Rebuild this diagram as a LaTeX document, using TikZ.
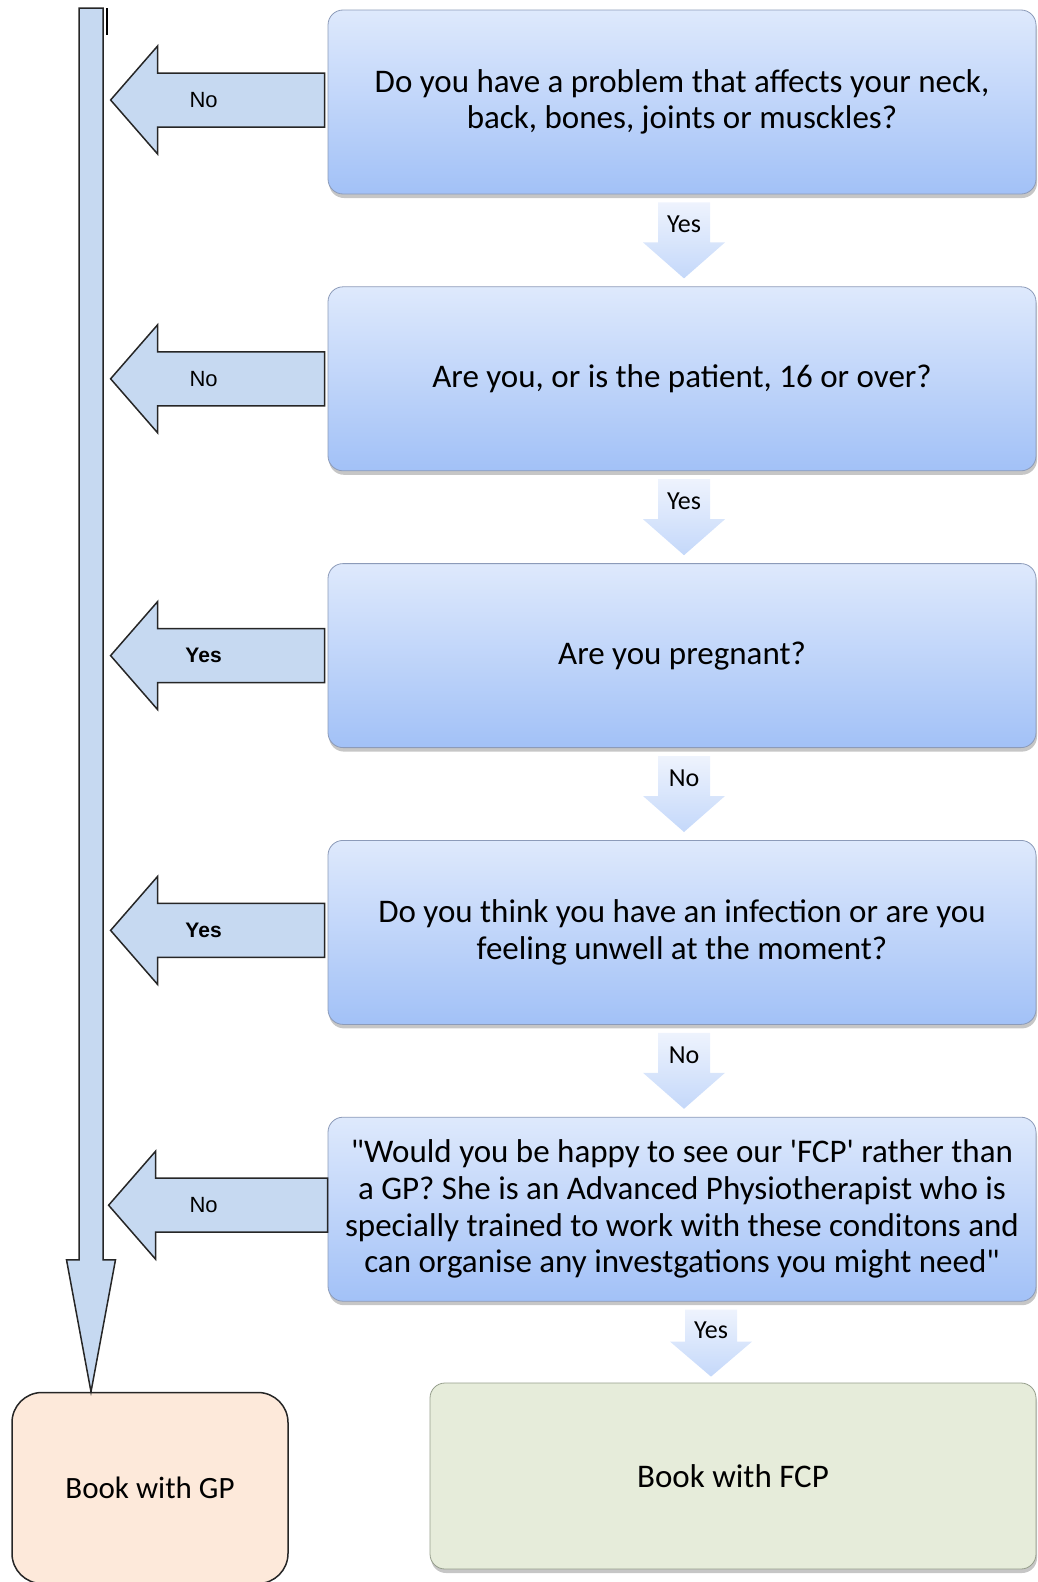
\documentclass[tikz,border=0pt]{standalone}
\usepackage{fontspec}
\setmainfont{Carlito}
\newfontfamily\arialfont{Liberation Sans}
\usetikzlibrary{positioning,shadows}

\definecolor{qtop}{RGB}{222,233,252}
\definecolor{qbot}{RGB}{162,193,247}
\definecolor{qedge}{RGB}{140,155,185}
\definecolor{arrtop}{RGB}{238,243,253}
\definecolor{arrbot}{RGB}{196,216,250}
\definecolor{barblue}{RGB}{198,217,241}
\definecolor{gpfill}{RGB}{253,233,218}
\definecolor{fcpfill}{RGB}{230,236,218}
\definecolor{fcpedge}{RGB}{150,158,140}

\tikzset{
  question/.style={rectangle, rounded corners=15pt, draw=qedge, line width=0.8pt,
    top color=qtop, bottom color=qbot, minimum width=708pt, minimum height=184pt,
    inner sep=0pt, align=center, font=\fontsize{33}{36.6}\selectfont,
    drop shadow={shadow xshift=1pt, shadow yshift=-4pt, opacity=0.45}},
  downarrow/.style={top color=arrtop, bottom color=arrbot},
  sidearrow/.style={fill=barblue, draw=black!85, line width=1.5pt},
  arrlabel/.style={font=\fontsize{26}{28}\selectfont, inner sep=0pt},
  sidelabel/.style={font=\arialfont\fontsize{22}{24}\selectfont, inner sep=0pt},
  gpbox/.style={rectangle, rounded corners=30pt, fill=gpfill, draw=black!85, line width=1.5pt,
    minimum width=276pt, minimum height=191pt, font=\fontsize{31}{36}\selectfont},
  fcpbox/.style={rectangle, rounded corners=15pt, fill=fcpfill, draw=fcpedge, line width=0.8pt,
    minimum width=606pt, minimum height=186pt, font=\fontsize{33}{36}\selectfont,
    drop shadow={shadow xshift=1pt, shadow yshift=-4pt, opacity=0.45}}
}

\begin{document}
\begin{tikzpicture}[x=1pt, y=-1pt]
\useasboundingbox (0,0) rectangle (1037,1582);
\clip (0,0) rectangle (1037,1582);

% questions
\node[question] (q1) at (682,102) {Do you have a problem that affects your neck,\\ back, bones, joints or musckles?};
\node[question, below=92pt of q1] (q2) {Are you, or is the patient, 16 or over?};
\node[question, below=92pt of q2] (q3) {Are you pregnant?};
\node[question, below=92pt of q3] (q4) {Do you think you have an infection or are you\\ feeling unwell at the moment?};
\node[question, below=92pt of q4] (q5) {\textquotedbl Would you be happy to see our \textquotesingle FCP\textquotesingle{} rather than\\ a GP? She is an Advanced Physiotherapist who is\\ specially trained to work with these conditons and\\ can organise any investgations you might need\textquotedbl};

% outcomes
\node[gpbox] (gp) at (150,1488) {Book with GP};
\node[fcpbox, anchor=north east] (fcp) at ([yshift=-81pt]q5.south east) {Book with FCP};

% down arrows
\path[downarrow] ([xshift=-24pt,yshift=-8pt]q1.south) -- ++(52pt,0pt) -- ++(0pt,-40pt) -- ++(15pt,0pt) -- ++(-41pt,-36pt) -- ++(-41pt,36pt) -- ++(15pt,0pt) -- cycle;
\node[arrlabel] (y1) at ([xshift=2pt,yshift=-30pt]q1.south) {Yes};
\path[downarrow] ([xshift=-24pt,yshift=-8pt]q2.south) -- ++(52pt,0pt) -- ++(0pt,-40pt) -- ++(15pt,0pt) -- ++(-41pt,-36pt) -- ++(-41pt,36pt) -- ++(15pt,0pt) -- cycle;
\node[arrlabel] (y2) at ([xshift=2pt,yshift=-30pt]q2.south) {Yes};
\path[downarrow] ([xshift=-24pt,yshift=-8pt]q3.south) -- ++(52pt,0pt) -- ++(0pt,-40pt) -- ++(15pt,0pt) -- ++(-41pt,-36pt) -- ++(-41pt,36pt) -- ++(15pt,0pt) -- cycle;
\node[arrlabel] (y3) at ([xshift=2pt,yshift=-30pt]q3.south) {No};
\path[downarrow] ([xshift=-24pt,yshift=-8pt]q4.south) -- ++(52pt,0pt) -- ++(0pt,-40pt) -- ++(15pt,0pt) -- ++(-41pt,-36pt) -- ++(-41pt,36pt) -- ++(15pt,0pt) -- cycle;
\node[arrlabel] (y4) at ([xshift=2pt,yshift=-30pt]q4.south) {No};
\path[downarrow] ([xshift=3pt,yshift=-8pt]q5.south) -- ++(52pt,0pt) -- ++(0pt,-32pt) -- ++(15pt,0pt) -- ++(-41pt,-35pt) -- ++(-41pt,35pt) -- ++(15pt,0pt) -- cycle;
\node[arrlabel] (y5) at ([xshift=29pt,yshift=-29pt]q5.south) {Yes};

% side arrows to the GP column
\draw[sidearrow] ([xshift=-3pt,yshift=29pt]q1.west) -- ++(-167pt,0pt) -- ++(0pt,27pt) -- ++(-47pt,-54pt) -- ++(47pt,-54pt) -- ++(0pt,27pt) -- ++(167pt,0pt) -- cycle;
\node[sidelabel] (n1) at ([xshift=-124pt,yshift=2pt]q1.west) {No};
\draw[sidearrow] ([xshift=-3pt,yshift=27pt]q2.west) -- ++(-167pt,0pt) -- ++(0pt,27pt) -- ++(-47pt,-54pt) -- ++(47pt,-54pt) -- ++(0pt,27pt) -- ++(167pt,0pt) -- cycle;
\node[sidelabel] (n2) at ([xshift=-124pt]q2.west) {No};
\draw[sidearrow] ([xshift=-3pt,yshift=27pt]q3.west) -- ++(-167pt,0pt) -- ++(0pt,27pt) -- ++(-47pt,-54pt) -- ++(47pt,-54pt) -- ++(0pt,27pt) -- ++(167pt,0pt) -- cycle;
\node[sidelabel, font=\arialfont\bfseries\fontsize{21}{23}\selectfont] (n3) at ([xshift=-124pt]q3.west) {Yes};
\draw[sidearrow] ([xshift=-3pt,yshift=29pt]q4.west) -- ++(-167pt,0pt) -- ++(0pt,27pt) -- ++(-47pt,-54pt) -- ++(47pt,-54pt) -- ++(0pt,27pt) -- ++(167pt,0pt) -- cycle;
\node[sidelabel, font=\arialfont\bfseries\fontsize{21}{23}\selectfont] (n4) at ([xshift=-124pt,yshift=2pt]q4.west) {Yes};
\draw[sidearrow] ([xshift=0pt,yshift=31pt]q5.west) -- ++(-172pt,0pt) -- ++(0pt,27pt) -- ++(-47pt,-54pt) -- ++(47pt,-54pt) -- ++(0pt,27pt) -- ++(172pt,0pt) -- cycle;
\node[sidelabel] (n5) at ([xshift=-124pt,yshift=4pt]q5.west) {No};

% long bar down to GP
\coordinate (bartop) at (91,8);
\draw[sidearrow] ([xshift=-12pt]bartop) -- ([xshift=-12pt,yshift=132pt]bartop |- gp.north) -- ++(-12.5pt,0pt) -- (bartop |- gp.north) -- ([xshift=24.5pt,yshift=132pt]bartop |- gp.north) -- ++(-12.5pt,0pt) -- ([xshift=12pt]bartop) -- cycle;
\draw[line width=2pt] (107,8) -- (107,35);
\end{tikzpicture}
\end{document}
